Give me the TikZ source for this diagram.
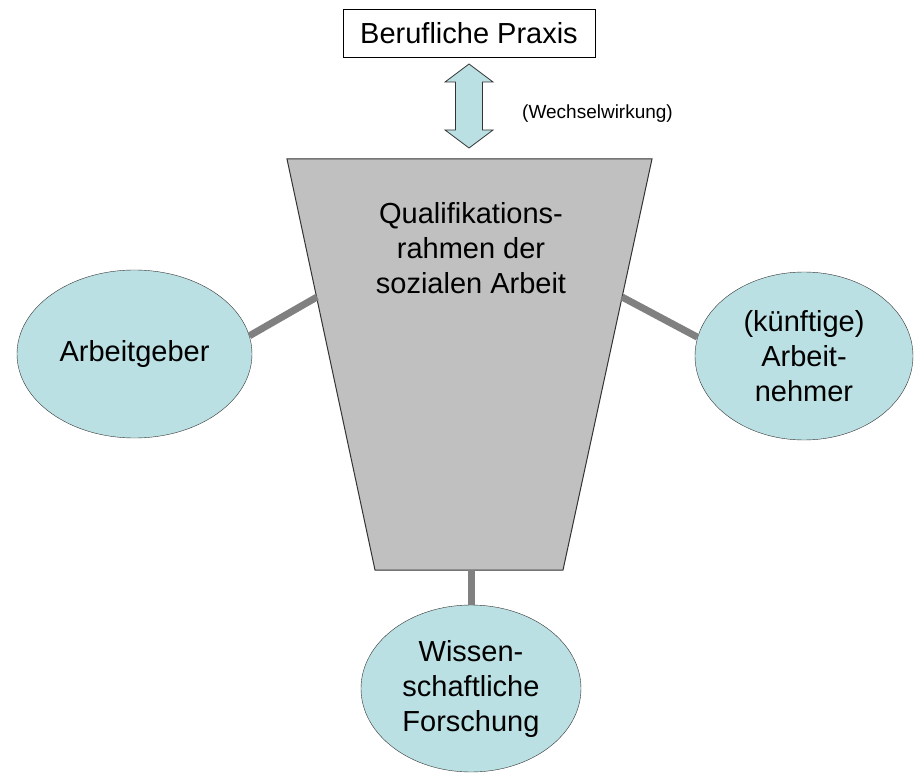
\documentclass[tikz,border=0pt]{standalone}
\usepackage{fontspec}
\setmainfont{Liberation Sans}
\usetikzlibrary{shapes.geometric}
\definecolor{paleblue}{HTML}{BBE0E3}
\definecolor{frameface}{HTML}{C0C0C0}

\begin{document}
\begin{tikzpicture}[x=1pt, y=-1pt,
  partner/.style = {ellipse, draw=black!80, fill=paleblue, inner sep=0pt, minimum height=168pt},
  bigtext/.style = {font=\fontsize{29}{35}\selectfont, align=center},
  link/.style = {line width=7pt, draw=black!50},
  twoway/.style = {draw=black!80, fill=paleblue, line width=0.8pt},
  frame/.style = {draw=black!80, fill=frameface, line width=1pt},
  ]
  \useasboundingbox (0,0) rectangle (914,773);
  \node[draw, fill=white, bigtext, minimum width=252pt, minimum height=48pt] (praxis) at (469,33) {Berufliche Praxis};

  \coordinate (tl) at (287,159);
  \coordinate (tr) at (652,159);
  \coordinate (br) at (563,570);
  \coordinate (bl) at (375,570);
  \draw[frame] (tl) -- (tr) -- (br) -- (bl) -- cycle;
  \node[bigtext] (rahmen) at (471,248) {Qualifikations-\\rahmen der\\sozialen Arbeit};

  \coordinate (tiptop) at (469,64);
  \coordinate (tipbot) at (469,148);
  \draw[twoway] (tiptop) -- ++(24,18) -- ++(-10.5,0) -- ++(0,48) -- ++(10.5,0) -- (tipbot)
    -- ++(-24,-18) -- ++(10.5,0) -- ++(0,-48) -- ++(-10.5,0) -- cycle;
  \node[anchor=west, inner sep=0pt, font=\fontsize{19}{23}\selectfont] (wirkung) at (522,114) {(Wechselwirkung)};

  \node[partner, minimum width=235pt, label={[bigtext]center:Arbeitgeber}] (geber) at (134.5,354) {};
  \node[partner, minimum width=218pt, label={[bigtext]center:(künftige)\\Arbeit-\\nehmer}] (nehmer) at (804,356) {};
  \node[partner, minimum width=220pt, minimum height=167pt, label={[bigtext]center:Wissen-\\schaftliche\\Forschung}] (forschung) at (471,688.5) {};

  \coordinate (lefthook) at (317,297);
  \coordinate (righthook) at (622,297);
  \coordinate (foot) at (471,570);
  \draw[link] (geber.9) -- (lefthook);
  \draw[link] (nehmer.170) -- (righthook);
  \draw[link] (forschung.north) -- (foot);
\end{tikzpicture}
\end{document}
